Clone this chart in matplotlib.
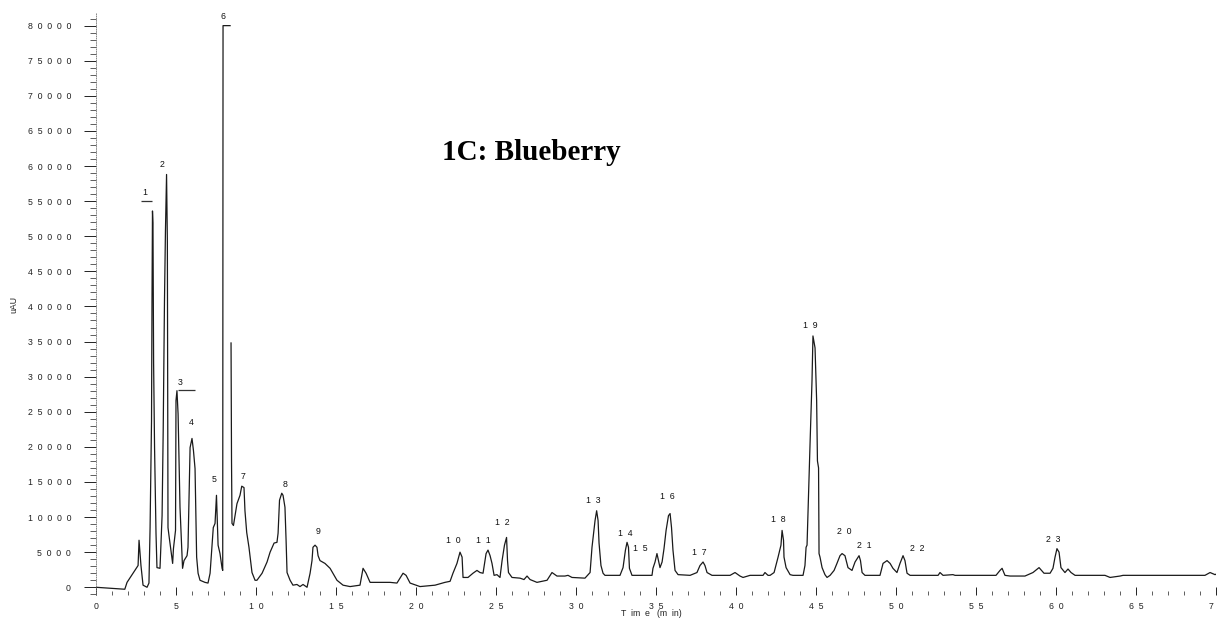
import matplotlib.pyplot as plt
from matplotlib.ticker import MultipleLocator, FuncFormatter

gap = float('nan')

# chromatogram trace (time in min, signal in uAU)
time = [0.0, 0.9, 1.8, 1.94, 2.31, 2.63, 2.69, 2.81, 2.94, 3.19, 3.31,
        3.38, 3.47, 3.5, 3.53, 3.56, 3.6, 3.66, 3.75, 3.81, 4.0,
        4.13, 4.2, 4.28, 4.34, 4.41, 4.46, 4.48, 4.5, 4.56, 4.79, 4.84,
        4.97, 5.0, 5.06, 5.13, 5.19, 5.25, 5.34, 5.41, 5.5, 5.69,
        5.75, 5.81, 5.88, 6.0, 6.09, 6.19, 6.29, 6.38, 6.5, 6.81, 7.0,
        7.13, 7.25, 7.33, 7.44, 7.53, 7.63, 7.75, 7.88, 7.92,
        7.94, 8.38, 8.41, 8.44, 8.47, 8.5, 8.59, 8.81, 9.0, 9.11, 9.25, 9.31,
        9.42, 9.56, 9.75, 9.94, 10.06, 10.38, 10.69, 10.88, 11.13, 11.31,
        11.38, 11.47, 11.61, 11.69, 11.81, 11.88, 11.94, 12.13, 12.31,
        12.56, 12.75, 12.94, 13.19, 13.38, 13.5, 13.56, 13.69, 13.81,
        13.88, 14.0, 14.31, 14.63, 14.88, 15.06, 15.44, 15.88, 16.5,
        16.69, 16.88, 17.13, 17.94, 18.38, 18.81, 19.19, 19.38, 19.63,
        20.25, 21.19, 21.81, 22.13, 22.31, 22.56, 22.75, 22.88, 22.94,
        23.25, 23.56, 23.81, 24.0, 24.19, 24.38, 24.5, 24.63, 24.75,
        24.88, 25.06, 25.25, 25.38, 25.53, 25.66, 25.72, 25.78, 26.0,
        26.5, 26.75, 26.94, 27.13, 27.56, 28.19, 28.5, 28.81, 29.31,
        29.5, 29.75, 30.56, 30.88, 31.0, 31.19, 31.29, 31.38, 31.44,
        31.56, 31.69, 31.81, 32.75, 32.94, 33.09, 33.19, 33.28, 33.34,
        33.5, 34.75, 34.81, 34.94, 35.06, 35.19, 35.25, 35.38, 35.5,
        35.63, 35.78, 35.88, 35.97, 36.06, 36.19, 36.38, 37.13, 37.56,
        37.75, 37.94, 38.06, 38.19, 38.5, 39.63, 39.94, 40.25, 40.44,
        40.88, 41.69, 41.81, 42.0, 42.13, 42.38, 42.63, 42.81, 42.88,
        42.97, 43.0, 43.13, 43.38, 43.56, 44.19, 44.31, 44.38, 44.44,
        44.5, 44.63, 44.75, 44.81, 44.94, 45.04, 45.09, 45.16, 45.19,
        45.25, 45.38, 45.56, 45.69, 45.88, 46.13, 46.31, 46.5, 46.63,
        46.81, 47.0, 47.25, 47.44, 47.69, 47.78, 47.88, 48.06, 49.0,
        49.19, 49.44, 49.63, 49.81, 50.06, 50.25, 50.44, 50.56, 50.69,
        50.88, 52.63, 52.75, 52.94, 53.56, 53.69, 56.25, 56.5, 56.63,
        56.81, 57.13, 58.06, 58.56, 58.94, 59.25, 59.63, 59.81, 59.94,
        60.06, 60.19, 60.31, 60.56, 60.75, 60.94, 61.19, 63.06, 63.38,
        64.0, 64.19, 69.31, 69.63, 69.94, 70.13]
signal = [0, -140, -280, 700, 2000, 3100, 6700, 3100, 300, 0, 600,
          8500, 23700, 40800, 53600, 51900, 32000, 19900, 7700, 2800, 2700,
          10200, 22300, 40800, 50700, 58800, 49300, 26600, 8500, 7400, 3400, 5500,
          8100, 26600, 28000, 24700, 18000, 11400, 6700, 2700, 3800, 4500,
          5700, 12400, 19900, 21200, 19500, 16900, 4300, 2000, 1000, 700, 600,
          2000, 6000, 8500, 9100, 13100, 6000, 4800, 2700, 2400,
          80000, 80000, gap, 34800, 18000, 9100, 8800, 11900, 13100, 14400, 14200, 10900,
          7800, 5700, 2100, 1000, 1000, 2000, 3600, 5000, 6300, 6400,
          7700, 12400, 13400, 13100, 11400, 6700, 2100, 1000, 300,
          400, 100, 400, 0, 2000, 3800, 5700, 6000, 5700,
          4500, 3800, 3400, 2700, 1700, 1000, 300, 100, 300,
          2700, 2000, 700, 700, 700, 600, 2000, 1700, 600,
          100, 300, 700, 850, 2000, 3400, 5000, 4300, 1400,
          1400, 2000, 2400, 2100, 2000, 4800, 5300, 4500, 3400,
          1700, 1800, 1400, 3800, 6000, 7100, 3800, 2100, 1400,
          1300, 1100, 1600, 1100, 700, 1000, 2100, 1600, 1600,
          1700, 1400, 1300, 2100, 5700, 9500, 10900, 9500, 6300,
          3100, 2000, 1700, 1700, 2800, 5300, 6400, 5700, 2700,
          1700, 1700, 2700, 3600, 4800, 3400, 2800, 3600, 5500,
          8100, 10200, 10500, 8500, 5300, 2400, 1800, 1700, 2100,
          3100, 3600, 3100, 2100, 1700, 1700, 2100, 1600, 1400,
          1700, 1700, 2100, 1700, 1700, 2100, 4300, 6000, 8100,
          6700, 4300, 2800, 1800, 1700, 1700, 3100, 5700, 6000,
          10700, 20600, 29400, 35800, 34100, 26600, 18000, 17000, 4800,
          4300, 2800, 1800, 1400, 1700, 2400, 3400, 4500, 4800,
          4500, 2800, 2400, 3600, 4500, 3800, 2100, 1700, 1700,
          3400, 3800, 3400, 2700, 2100, 3400, 4500, 3800, 2000,
          1700, 1700, 2100, 1700, 1800, 1700, 1700, 2400, 2700,
          1700, 1600, 1600, 2100, 2800, 2000, 2000, 2700, 4300,
          5500, 5000, 2800, 2100, 2600, 2100, 1700, 1700, 1400,
          1600, 1700, 1700, 2100, 1800, 2000]

# peak numbers and where their labels sit
peak_ids = ['1', '2', '3', '4', '5', '6', '7', '8', '9', '10', '11', '12',
            '13', '14', '15', '16', '17', '18', '19', '20', '21', '22', '23']
peak_t = [3.06, 4.13, 5.25, 5.98, 7.38, 7.94, 9.19, 11.81, 13.88, 22.31, 24.19,
          25.38, 31.06, 33.06, 34.0, 35.69, 37.69, 42.63, 44.63, 46.75, 48.0,
          51.31, 59.81]
peak_v = [56200, 60200, 29200, 23500, 15400, 81300, 15800, 14700, 7900, 6600, 6600,
          9200, 12300, 7600, 5500, 13000, 5000, 9600, 37300, 7900, 6000,
          5500, 6800]

# apex marker bars (start, end, level)
bar_start = [2.81, 5.13]
bar_end = [3.5, 6.19]
bar_level = [55000, 28100]


def spaced(s):
    return '  '.join(s)


fig = plt.figure(figsize=(12.18, 6.19), dpi=100)
ax = fig.add_axes([96 / 1218, 24 / 619, 1120 / 1218, 582 / 619])

ax.plot(time, signal, color='#1a1a1a', lw=0.9)
ax.hlines(bar_level, bar_start, bar_end, color='#333333', lw=0.9)

for lab, t, v in zip(peak_ids, peak_t, peak_v):
    ax.text(t, v, spaced(lab), fontsize=6.3, family='Liberation Sans',
            ha='center', va='center', color='#111111')

ax.set_xlim(0, 70)
ax.set_ylim(-1100, 81800)

ax.xaxis.set_major_locator(MultipleLocator(5))
ax.xaxis.set_minor_locator(MultipleLocator(1))
ax.yaxis.set_major_locator(MultipleLocator(5000))
ax.yaxis.set_minor_locator(MultipleLocator(1000))
ax.xaxis.set_major_formatter(FuncFormatter(lambda x, p: spaced(str(int(round(x))))))
ax.yaxis.set_major_formatter(FuncFormatter(lambda y, p: spaced(str(int(round(y))))))

ax.tick_params(axis='x', which='major', direction='in', length=6, width=0.7,
               pad=5, labelsize=6.3, colors='#222222')
ax.tick_params(axis='x', which='minor', direction='in', length=3, width=0.6,
               colors='#444444')
ax.tick_params(axis='y', which='major', direction='out', length=9, width=0.7,
               pad=9, labelsize=6.3, colors='#222222')
ax.tick_params(axis='y', which='minor', direction='out', length=4, width=0.6,
               colors='#444444')
for lbl in ax.get_xticklabels() + ax.get_yticklabels():
    lbl.set_family('Liberation Sans')

for side in ['top', 'right', 'bottom']:
    ax.spines[side].set_visible(False)
ax.spines['left'].set_linestyle(':')
ax.spines['left'].set_linewidth(0.6)
ax.spines['left'].set_color('#777777')

fig.text(651 / 1218, 1 - 613 / 619, 'T  im  e   (m  in)', fontsize=6.3,
         family='Liberation Sans', ha='center', va='center', color='#222222')
fig.text(14 / 1218, 1 - 305 / 619, 'uAU', fontsize=6.3, rotation=90,
         family='Liberation Sans', ha='center', va='center', color='#222222')
fig.text(531 / 1218, 1 - 153 / 619, '1C: Blueberry', fontsize=21,
         family='Liberation Serif', weight='bold', ha='center', va='center')

fig.savefig('out.png', dpi=100)
